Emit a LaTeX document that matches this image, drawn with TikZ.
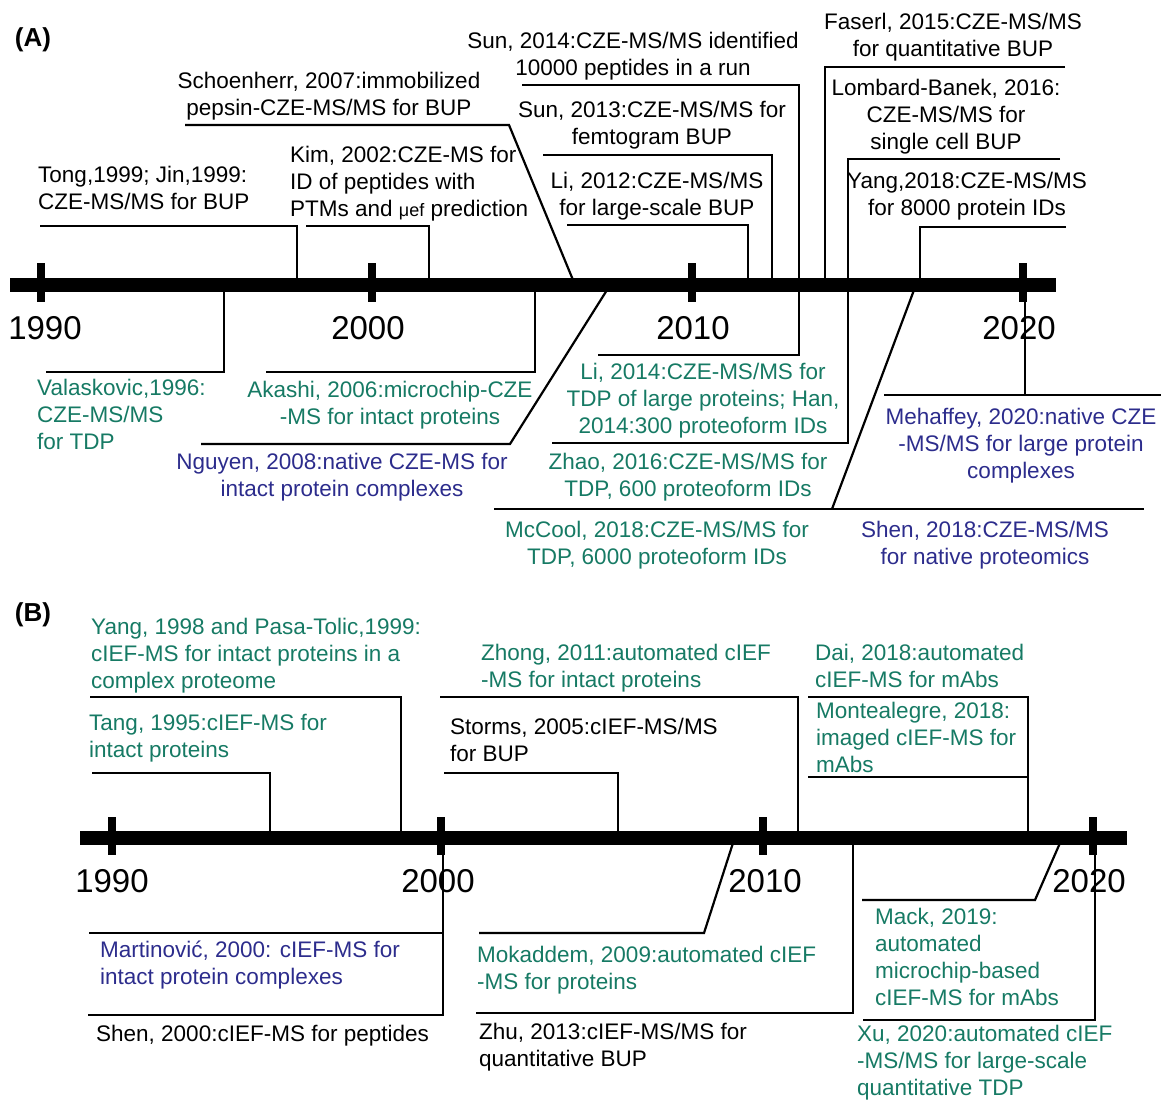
\documentclass[tikz,border=0pt]{standalone}
\usepackage{fontspec}
\setmainfont{Liberation Sans}
\definecolor{tealtxt}{RGB}{22,122,100}
\definecolor{navytxt}{RGB}{44,44,140}

\begin{document}
\begin{tikzpicture}[x=1pt,y=-1pt,
  leader/.style={line width=2.2pt},
  axisbar/.style={line width=14pt},
  tickmark/.style={line width=8pt},
  evtxt/.style={inner sep=0pt,font=\fontsize{22.5}{27}\selectfont},
  lblleft/.style={evtxt,anchor=base west,align=left},
  lblmid/.style={evtxt,anchor=base,align=center},
  yearlbl/.style={inner sep=0pt,anchor=base,font=\fontsize{33}{33}\selectfont},
  panellbl/.style={inner sep=0pt,anchor=base,font=\fontsize{26}{26}\selectfont\bfseries}]

\useasboundingbox (0,0) rectangle (1161,1102);

% ---------------- Panel A: CZE-MS ----------------

% The leaders above the axis
\draw[leader] (40,226) -- (297,226) -- (297,285);
\draw[leader] (306,226) -- (429,226) -- (429,285);
\draw[leader] (185,125) -- (509,125) -- (573,280);
\draw[leader] (522,85) -- (799,85) -- (799,285);
\draw[leader] (543,155) -- (772,155) -- (772,285);
\draw[leader] (567,225) -- (748,225) -- (748,285);
\draw[leader] (1065,67) -- (825,67) -- (825,285);
\draw[leader] (1060,159) -- (848,159) -- (848,285);
\draw[leader] (1066,227) -- (920,227) -- (920,285);

% The leaders below the axis
\draw[leader] (224,285) -- (224,372) -- (46,372);
\draw[leader] (535,285) -- (535,372) -- (266,372);
\draw[leader] (201,444) -- (510,444) -- (607,290);
\draw[leader] (799,285) -- (799,355) -- (598,355);
\draw[leader] (848,285) -- (848,443) -- (552,443);
\draw[leader] (494,509) -- (1144,509);
\draw[leader] (832,509) -- (914,290);
\draw[leader] (1025,285) -- (1025,395);
\draw[leader] (884,395) -- (1161,395);

% The axis and the markings
\draw[axisbar] (10,285) -- (1056,285);
\foreach \x in {41,372,692,1023}
  \draw[tickmark] (\x,263) -- (\x,302);

% The years
\node[yearlbl] (a1990) at (45,339) {1990};
\node[yearlbl] (a2000) at (368,339) {2000};
\node[yearlbl] (a2010) at (693,339) {2010};
\node[yearlbl] (a2020) at (1019,339) {2020};

% The labels (placed at the baseline of their last line)
\node[panellbl] (pa) at (33,47) {(A)};
\node[lblleft] (tong) at (38,209) {Tong,1999; Jin,1999:\\CZE-MS/MS for BUP};
\node[lblleft] (kim) at (290,216) {Kim, 2002:CZE-MS for\\ID of peptides with\\PTMs and {\fontsize{18}{18}\selectfont μef} prediction};
\node[lblmid] (schoen) at (329,116) {Schoenherr, 2007:immobilized\\pepsin-CZE-MS/MS for BUP};
\node[lblmid] (sun14) at (633,76) {Sun, 2014:CZE-MS/MS identified\\10000 peptides in a run};
\node[lblmid] (sun13) at (652,145) {Sun, 2013:CZE-MS/MS for\\femtogram BUP};
\node[lblmid] (li12) at (657,215) {Li, 2012:CZE-MS/MS\\for large-scale BUP};
\node[lblmid] (faserl) at (953,57) {Faserl, 2015:CZE-MS/MS\\for quantitative BUP};
\node[lblmid] (lombard) at (946,150) {Lombard-Banek, 2016:\\CZE-MS/MS for\\single cell BUP};
\node[lblmid] (yang18) at (967,215) {Yang,2018:CZE-MS/MS\\for 8000 protein IDs};
\node[lblleft,tealtxt] (valask) at (37,449) {Valaskovic,1996:\\CZE-MS/MS\\for TDP};
\node[lblmid,tealtxt] (akashi) at (390,424) {Akashi, 2006:microchip-CZE\\-MS for intact proteins};
\node[lblmid,navytxt] (nguyen) at (342,496) {Nguyen, 2008:native CZE-MS for\\intact protein complexes};
\node[lblmid,tealtxt] (li14) at (703,433) {Li, 2014:CZE-MS/MS for\\TDP of large proteins; Han,\\2014:300 proteoform IDs};
\node[lblmid,tealtxt] (zhao) at (688,496) {Zhao, 2016:CZE-MS/MS for\\TDP, 600 proteoform IDs};
\node[lblmid,tealtxt] (mccool) at (657,564) {McCool, 2018:CZE-MS/MS for\\TDP, 6000 proteoform IDs};
\node[lblmid,navytxt] (shen18) at (985,564) {Shen, 2018:CZE-MS/MS\\for native proteomics};
\node[lblmid,navytxt] (mehaffey) at (1021,478) {Mehaffey, 2020:native CZE\\-MS/MS for large protein\\complexes};

% ---------------- Panel B: cIEF-MS ----------------

% The leaders above the axis
\draw[leader] (90,697) -- (401,697) -- (401,838);
\draw[leader] (92,773) -- (270,773) -- (270,838);
\draw[leader] (440,697) -- (798,697) -- (798,838);
\draw[leader] (444,773) -- (618,773) -- (618,838);
\draw[leader] (808,697) -- (1028,697) -- (1028,838);
\draw[leader] (808,777) -- (1028,777);

% The leaders below the axis
\draw[leader] (89,933) -- (443,933);
\draw[leader] (88,1015) -- (443,1015) -- (443,838);
\draw[leader] (479,933) -- (704,933) -- (733,843);
\draw[leader] (476,1013) -- (853,1013) -- (853,838);
\draw[leader] (862,900) -- (1035,900) -- (1060,843);
\draw[leader] (863,1020) -- (1095,1020) -- (1095,838);

% The axis and the markings
\draw[axisbar] (80,838) -- (1127,838);
\foreach \x in {112,441,763,1093}
  \draw[tickmark] (\x,817) -- (\x,855);

% The years
\node[yearlbl] (b1990) at (112,892) {1990};
\node[yearlbl] (b2000) at (438,892) {2000};
\node[yearlbl] (b2010) at (765,892) {2010};
\node[yearlbl] (b2020) at (1089,892) {2020};

% The labels (placed at the baseline of their last line)
\node[panellbl] (pb) at (33,621) {(B)};
\node[lblleft,tealtxt] (yang98) at (91,688) {Yang, 1998 and Pasa-Tolic,1999:\\cIEF-MS for intact proteins in a\\complex proteome};
\node[lblleft,tealtxt] (tang) at (89,757) {Tang, 1995:cIEF-MS for\\intact proteins};
\node[lblleft,tealtxt] (zhong) at (481,687) {Zhong, 2011:automated cIEF\\-MS for intact proteins};
\node[lblleft] (storms) at (450,761) {Storms, 2005:cIEF-MS/MS\\for BUP};
\node[lblleft,tealtxt] (dai) at (815,687) {Dai, 2018:automated\\cIEF-MS for mAbs};
\node[lblleft,tealtxt] (monte) at (816,772) {Montealegre, 2018:\\imaged cIEF-MS for\\mAbs};
\node[lblleft,navytxt] (martin) at (100,984) {Martinović, 2000: cIEF-MS for\\intact protein complexes};
\node[lblleft] (shen00) at (96,1041) {Shen, 2000:cIEF-MS for peptides};
\node[lblleft,tealtxt] (mokad) at (477,989) {Mokaddem, 2009:automated cIEF\\-MS for proteins};
\node[lblleft] (zhu) at (479,1066) {Zhu, 2013:cIEF-MS/MS for\\quantitative BUP};
\node[lblleft,tealtxt] (mack) at (875,1005) {Mack, 2019:\\automated\\microchip-based\\cIEF-MS for mAbs};
\node[lblleft,tealtxt] (xu) at (857,1095) {Xu, 2020:automated cIEF\\-MS/MS for large-scale\\quantitative TDP};

\end{tikzpicture}
\end{document}
